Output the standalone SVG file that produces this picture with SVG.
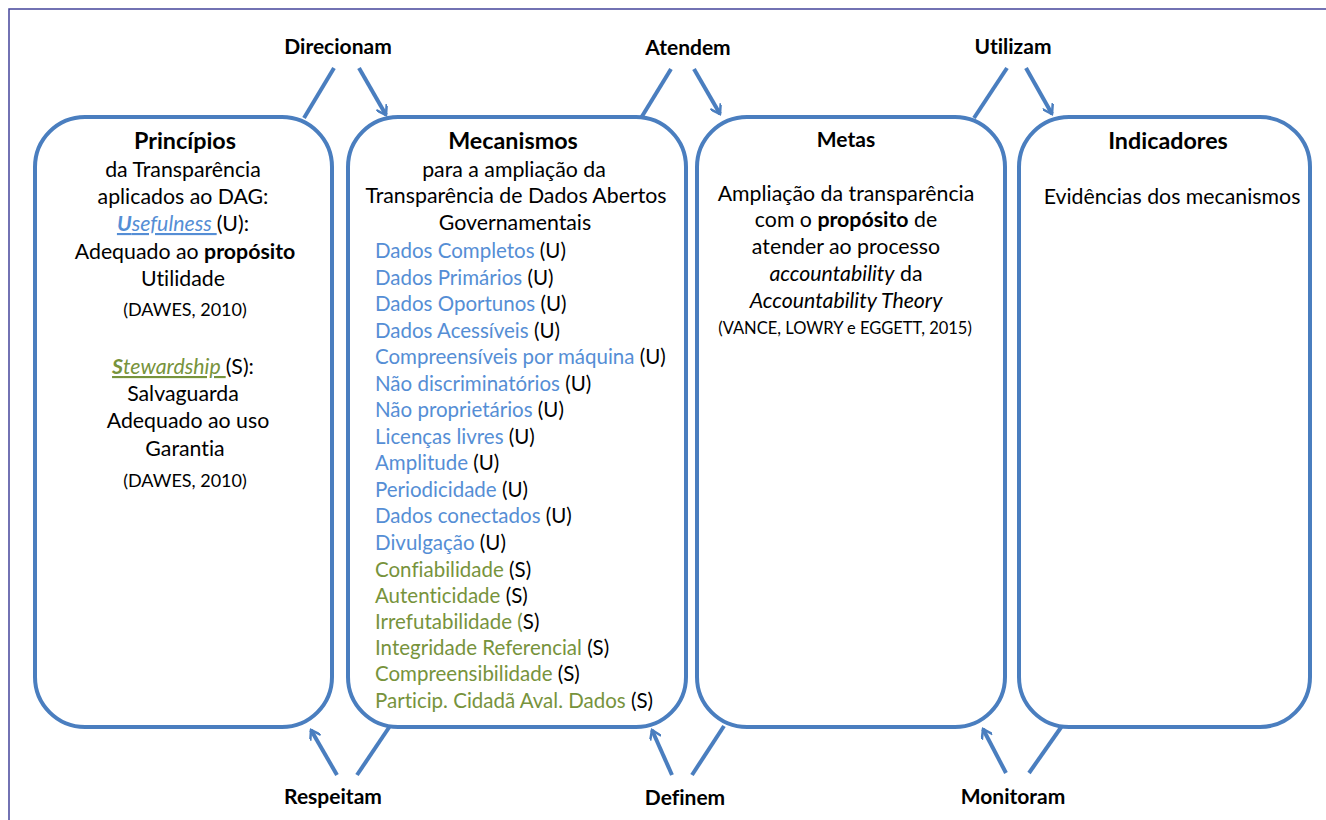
<svg xmlns="http://www.w3.org/2000/svg" width="1326" height="820" viewBox="0 0 1326 820">
<defs>
<style>
.box{fill:#fff;stroke:#4a7ebf;stroke-width:4}
.con{stroke:#4a7ebf;stroke-width:4;fill:none;stroke-linecap:butt}
text{font-family:Lato,"Open Sans","Liberation Sans",sans-serif;fill:#000;font-variant-ligatures:none;font-feature-settings:"liga" 0}
.lbl{font-size:21px;font-weight:bold;text-anchor:middle}
.t{font-size:21.3px;text-anchor:middle}
.h{font-size:23.3px;font-weight:bold;text-anchor:middle}
.s{font-size:18px;text-anchor:middle}
.li{font-size:20.5px}
.b{fill:#558ed5}
.g{fill:#77933c}
</style>
<marker id="arr" markerWidth="12" markerHeight="12" refX="10" refY="6" orient="auto" markerUnits="userSpaceOnUse" viewBox="0 0 12 12">
<path d="M1,0 L10,6 L1,12" fill="none" stroke="#4a7ebf" stroke-width="2.5"/>
</marker>
</defs>
<rect x="0" y="0" width="1326" height="820" fill="#fff"/>
<path d="M9,820 V9 H1326" fill="none" stroke="#44449a" stroke-width="1.5"/>

<g id="connectors">
<line class="con" x1="334" y1="68" x2="304" y2="118"/>
<line class="con" x1="359" y1="68" x2="386" y2="115" marker-end="url(#arr)"/>
<line class="con" x1="671" y1="69" x2="641" y2="118"/>
<line class="con" x1="694" y1="69" x2="720" y2="114" marker-end="url(#arr)"/>
<line class="con" x1="1007" y1="68" x2="974" y2="118"/>
<line class="con" x1="1026" y1="68" x2="1052" y2="114" marker-end="url(#arr)"/>
<line class="con" x1="337" y1="775" x2="311" y2="730" marker-end="url(#arr)"/>
<line class="con" x1="357" y1="775" x2="390" y2="726"/>
<line class="con" x1="672" y1="775" x2="652" y2="730" marker-end="url(#arr)"/>
<line class="con" x1="692" y1="775" x2="724" y2="726"/>
<line class="con" x1="1006" y1="773" x2="983" y2="729" marker-end="url(#arr)"/>
<line class="con" x1="1029" y1="773" x2="1062" y2="726"/>
<text class="lbl" x="338" y="54">Direcionam</text>
<text class="lbl" x="688" y="55">Atendem</text>
<text class="lbl" x="1013" y="54">Utilizam</text>
<text class="lbl" x="333" y="804">Respeitam</text>
<text class="lbl" x="685" y="805">Definem</text>
<text class="lbl" x="1013" y="804">Monitoram</text>
</g>

<g id="principios">
<rect class="box" x="35" y="117" width="297" height="610" rx="50" ry="50"/>
<text class="h" x="185" y="149">Princípios</text>
<text class="t" x="183" y="177">da Transparência</text>
<text class="t" x="183" y="204">aplicados ao DAG:</text>
<text class="t" x="183" y="231"><tspan class="b" font-style="italic" text-decoration="underline"><tspan font-weight="bold">U</tspan>sefulness </tspan>(U):</text>
<text class="t" x="185" y="259">Adequado ao <tspan font-weight="bold">propósito</tspan></text>
<text class="t" x="183" y="286">Utilidade</text>
<text class="s" x="185" y="316">(DAWES, 2010)</text>
<text class="t" x="183" y="374"><tspan class="g" font-style="italic" text-decoration="underline"><tspan font-weight="bold">S</tspan>tewardship </tspan>(S):</text>
<text class="t" x="183" y="401">Salvaguarda</text>
<text class="t" x="188" y="428">Adequado ao uso</text>
<text class="t" x="185" y="456">Garantia</text>
<text class="s" x="185" y="487">(DAWES, 2010)</text>
</g>

<g id="mecanismos">
<rect class="box" x="348" y="117" width="338" height="610" rx="50" ry="50"/>
<text class="h" x="513" y="149">Mecanismos</text>
<text class="t" x="514" y="177">para a ampliação da</text>
<text class="t" x="516" y="203">Transparência de Dados Abertos</text>
<text class="t" x="515" y="230">Governamentais</text>
<g class="li">
<text x="375" y="258"><tspan class="b">Dados Completos</tspan> (U)</text>
<text x="375" y="285"><tspan class="b">Dados Primários</tspan> (U)</text>
<text x="375" y="311"><tspan class="b">Dados Oportunos</tspan> (U)</text>
<text x="375" y="338"><tspan class="b">Dados Acessíveis</tspan> (U)</text>
<text x="375" y="364"><tspan class="b">Compreensíveis por máquina</tspan> (U)</text>
<text x="375" y="391"><tspan class="b">Não discriminatórios</tspan> (U)</text>
<text x="375" y="417"><tspan class="b">Não proprietários</tspan> (U)</text>
<text x="375" y="444"><tspan class="b">Licenças livres</tspan> (U)</text>
<text x="375" y="470"><tspan class="b">Amplitude</tspan> (U)</text>
<text x="375" y="497"><tspan class="b">Periodicidade</tspan> (U)</text>
<text x="375" y="523"><tspan class="b">Dados conectados</tspan> (U)</text>
<text x="375" y="550"><tspan class="b">Divulgação</tspan> (U)</text>
<text x="375" y="577"><tspan class="g">Confiabilidade</tspan> (S)</text>
<text x="375" y="603"><tspan class="g">Autenticidade</tspan> (S)</text>
<text x="375" y="629"><tspan class="g">Irrefutabilidade (</tspan>S)</text>
<text x="375" y="655"><tspan class="g">Integridade Referencial</tspan> (S)</text>
<text x="375" y="681"><tspan class="g">Compreensibilidade</tspan> (S)</text>
<text x="375" y="708"><tspan class="g">Particip. Cidadã Aval. Dados</tspan> (S)</text>
</g>
</g>

<g id="metas">
<rect class="box" x="697" y="117" width="308" height="610" rx="50" ry="50"/>
<text class="lbl" x="846" y="147">Metas</text>
<text class="t" x="846" y="201">Ampliação da transparência</text>
<text class="t" x="846" y="227">com o <tspan font-weight="bold">propósito</tspan> de</text>
<text class="t" x="846" y="254">atender ao processo</text>
<text class="t" x="846" y="281"><tspan font-style="italic">accountability</tspan> da</text>
<text class="t" x="846" y="308" font-style="italic">Accountability Theory</text>
<text class="s" x="845" y="334" style="font-size:16.5px">(VANCE, LOWRY e EGGETT, 2015)</text>
</g>

<g id="indicadores">
<rect class="box" x="1019" y="117" width="291" height="610" rx="50" ry="50"/>
<text class="h" x="1168" y="149">Indicadores</text>
<text class="t" x="1172" y="204">Evidências dos mecanismos</text>
</g>
</svg>
